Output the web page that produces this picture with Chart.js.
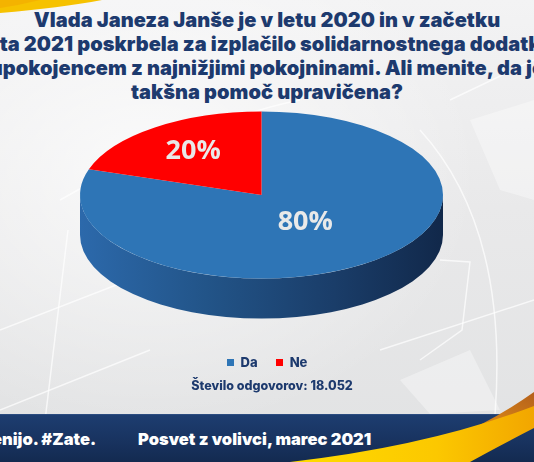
<!DOCTYPE html>
<html>
<head>
<meta charset="utf-8">
<script src="https://cdn.jsdelivr.net/npm/chart.js@4.4.1/dist/chart.umd.min.js"></script>
<style>
html,body{margin:0;padding:0;}
body{width:534px;height:462px;overflow:hidden;position:relative;font-family:Inter,"Open Sans",sans-serif;}
#bg{position:absolute;left:0;top:0;width:534px;height:462px;
  background:
   radial-gradient(ellipse 330px 260px at 150px 170px, rgba(255,255,255,0.75), rgba(255,255,255,0) 100%),
   linear-gradient(180deg,#f3f3f4 0%,#e9e9ea 45%,#e1e2e3 100%);}
#deco{position:absolute;left:0;top:0;}
#c{position:absolute;left:0;top:0;}
.tl{position:absolute;left:-300px;width:1134px;text-align:center;white-space:nowrap;
  font-weight:900;font-size:20px;line-height:24px;color:#1d3a6e;letter-spacing:0.05px;}
#legend{position:absolute;left:0;width:534px;top:354px;text-align:center;font-weight:800;font-size:13px;color:#1d3a6e;line-height:16px;}
#legend span.item{display:inline-block;margin:0 9px;}
#legend span.box{display:inline-block;width:7px;height:7px;margin-right:7px;vertical-align:1px;}
#count{position:absolute;width:534px;top:378px;text-align:center;font-weight:800;font-size:12.5px;color:#1d3a6e;line-height:16px;left:5px;}
#footer{position:absolute;left:0;top:414px;width:534px;height:48px;
  background:linear-gradient(180deg,#1d3d70 0%,#18325e 60%,#132a50 100%);border-top:1px solid #2b4c80;box-sizing:border-box;}
#swoosh{position:absolute;left:0;top:380px;}
.ft{position:absolute;top:428px;white-space:nowrap;font-weight:900;font-size:16.5px;line-height:22px;color:#ffffff;letter-spacing:0px;}
</style>
</head>
<body>
<div id="bg"></div>
<svg id="deco" width="534" height="462">
  <g fill="none" stroke="#ffffff" stroke-opacity="0.7" stroke-width="1.5">
    <path d="M40 462 L68 230"/>
    <path d="M0 330 L160 268"/>
    <path d="M0 410 L150 350"/>
    <path d="M60 200 Q200 120 300 100"/>
    <path d="M450 100 L534 60"/>
    <path d="M440 260 L470 262 L462 330 L420 360"/>
    <path d="M380 350 L534 300"/>
    <path d="M420 130 Q520 240 490 462"/>
  </g>
  <g fill="#ffffff" fill-opacity="0.35">
    <path d="M400 380 L470 350 L500 410 L430 414 Z"/>
    <path d="M470 120 L534 100 L534 200 L500 190 Z"/>
  </g>
  <path d="M0 0 L102 0 Q60 8 0 13 Z" fill="#f6c200"/>
  <path d="M0 0 L40 0 Q20 5 0 8 Z" fill="#f3a800" fill-opacity="0.6"/>
</svg>
<div class="tl" style="top:8px">Vlada Janeza Janše je v letu 2020 in v začetku</div>
<div class="tl" style="top:32px">leta 2021 poskrbela za izplačilo solidarnostnega dodatka</div>
<div class="tl" style="top:56px">upokojencem z najnižjimi pokojninami. Ali menite, da je</div>
<div class="tl" style="top:80px">takšna pomoč upravičena?</div>
<canvas id="c" width="534" height="462"></canvas>
<div id="legend"></div>
<div id="count">Število odgovorov: 18.052</div>
<div id="footer"></div>
<svg id="swoosh" width="534" height="82">
  <defs>
    <linearGradient id="yg" x1="0" y1="0" x2="1" y2="0">
      <stop offset="0" stop-color="#ffdc00"/>
      <stop offset="0.6" stop-color="#fcc800"/>
      <stop offset="1" stop-color="#f2a600"/>
    </linearGradient>
    <linearGradient id="og" x1="0" y1="1" x2="1" y2="0">
      <stop offset="0" stop-color="#f5a510"/>
      <stop offset="1" stop-color="#b5601c"/>
    </linearGradient>
  </defs>
  <path d="M440 64 Q495 40 534 12 L534 30 Q500 52 470 60 Z" fill="url(#og)"/>
  <path d="M290 82 Q430 66 534 26 L534 48 Q495 68 470 82 Z" fill="url(#yg)"/>
</svg>
<div class="ft" style="left:-8px">enijo. #Zate.</div>
<div class="ft" style="left:138px">Posvet z volivci, marec 2021</div>
<script>
// ---- data ----
const categories = ['Da', 'Ne'];
const values = [80, 20];
const valueLabels = ['80%', '20%'];
const colors = ['#2e75b6', '#ff0000'];

// ---- legend (HTML, built from the arrays) ----
const lg = document.getElementById('legend');
categories.forEach((c, i) => {
  const s = document.createElement('span');
  s.className = 'item';
  const b = document.createElement('span');
  b.className = 'box';
  b.style.background = colors[i];
  s.appendChild(b);
  s.appendChild(document.createTextNode(c));
  lg.appendChild(s);
});

// ---- 3D look ----
const TARGET_Y = 195;   // screen y of pie centre
const SY = 0.46;        // vertical squash
const DEPTH = 40;       // side height in px
const LABEL_F = [0.41, 0.64];

const pie3d = {
  id: 'pie3d',
  beforeDatasetsDraw(chart) {
    const ctx = chart.ctx;
    const arcs = chart.getDatasetMeta(0).data;
    const el0 = arcs[0];
    const cx = el0.x, cy = el0.y, r = el0.outerRadius;
    ctx.save();
    ctx.translate(cx, TARGET_Y);
    ctx.scale(1, SY);
    ctx.translate(-cx, -cy);
    const d = DEPTH / SY;
    const g = ctx.createLinearGradient(cx - r, 0, cx + r, 0);
    g.addColorStop(0, '#2c69ab');
    g.addColorStop(0.35, '#225488');
    g.addColorStop(0.7, '#1a3d69');
    g.addColorStop(1, '#11284a');
    arcs.forEach((el) => {
      const a0 = Math.max(el.startAngle, 0);
      const a1 = Math.min(el.endAngle, Math.PI);
      if (a1 <= a0) return;
      ctx.beginPath();
      ctx.moveTo(el.x + r * Math.cos(a0), el.y + r * Math.sin(a0));
      ctx.arc(el.x, el.y, r, a0, a1);
      ctx.lineTo(el.x + r * Math.cos(a1), el.y + d + r * Math.sin(a1));
      ctx.arc(el.x, el.y + d, r, a1, a0, true);
      ctx.closePath();
      ctx.fillStyle = g;
      ctx.fill();
    });
  },
  afterDatasetsDraw(chart) {
    const ctx = chart.ctx;
    ctx.restore();
    const arcs = chart.getDatasetMeta(0).data;
    ctx.save();
    ctx.font = '700 27px "Open Sans", sans-serif';
    ctx.fillStyle = '#e9e9e9';
    ctx.textAlign = 'center';
    ctx.textBaseline = 'middle';
    arcs.forEach((el, i) => {
      const mid = (el.startAngle + el.endAngle) / 2;
      const f = LABEL_F[i];
      const x = el.x + f * el.outerRadius * Math.cos(mid);
      const y = TARGET_Y + f * el.outerRadius * Math.sin(mid) * SY;
      ctx.fillText(valueLabels[i], x, y);
    });
    ctx.restore();
  }
};

new Chart(document.getElementById('c'), {
  type: 'pie',
  data: {
    labels: categories,
    datasets: [{
      data: values,
      backgroundColor: colors,
      borderWidth: 0,
      radius: 181.5
    }]
  },
  options: {
    responsive: false,
    animation: false,
    events: [],
    layout: { padding: { left: 80, right: 91, top: 0, bottom: 0 } },
    plugins: { legend: { display: false }, tooltip: { enabled: false }, title: { display: false } }
  },
  plugins: [pie3d]
});
</script>
</body>
</html>
